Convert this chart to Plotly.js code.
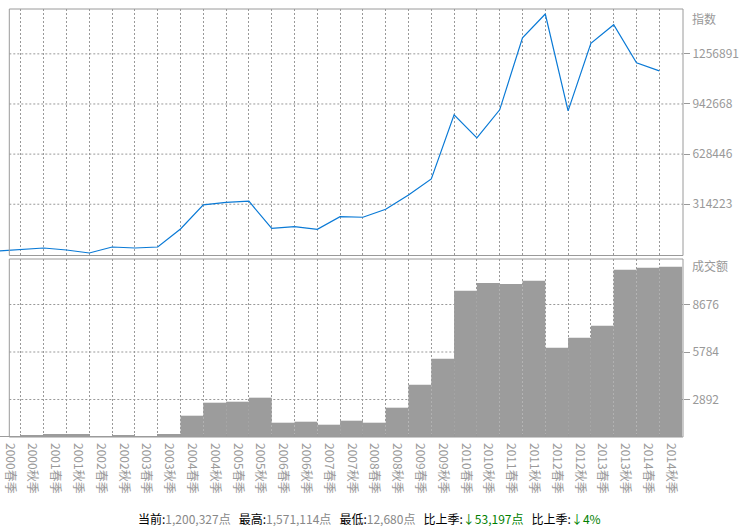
<!DOCTYPE html>
<html>
<head>
<meta charset="utf-8">
<script src="https://cdn.plot.ly/plotly-3.0.1.min.js"></script>
<style>html,body{margin:0;padding:0;background:#fff;}#chart{width:744px;height:532px;}</style>
</head>
<body>
<div id="chart"></div>
<script>
// ---- data ----
const categories = ['2000春季','2000秋季','2001春季','2001秋季','2002春季','2002秋季','2003春季','2003秋季',
  '2004春季','2004秋季','2005春季','2005秋季','2006春季','2006秋季','2007春季','2007秋季',
  '2008春季','2008秋季','2009春季','2009秋季','2010春季','2010秋季','2011春季','2011秋季',
  '2012春季','2012秋季','2013春季','2013秋季','2014春季','2014秋季'];
const indexValues = [25700, 35500, 45300, 32200, 12680, 51800, 45300, 51800, 169300, 326000,
  342400, 350200, 172600, 184400, 167400, 249600, 245700, 298000, 391300, 495800,
  913600, 763500, 946300, 1416400, 1571114, 939800, 1380500, 1501300, 1253524, 1200327];
const volumeValues = [85, 170, 255, 255, 85, 170, 85, 255, 1808, 2912,
  2997, 3337, 1214, 1299, 1044, 1384, 1214, 2488, 4440, 6648,
  12421, 13075, 12990, 13270, 7582, 8431, 9450, 14204, 14374, 14460];
const indexTicks = [314223, 628446, 942668, 1256891];
const volumeTicks = [2892, 5784, 8676];
const indexTitle = '指数';
const volumeTitle = '成交额';
const summaryLabels = ['当前:', '最高:', '最低:', '比上季:', '比上季:'];
const summaryValues = ['1,200,327点', '1,571,114点', '12,680点', '↓53,197点', '↓4%'];
const summaryColors = ['#888', '#888', '#888', '#008000', '#008000'];

// ---- layout helpers ----
const FONT = '"Noto Sans CJK SC", "Noto Sans", sans-serif';
const W = 744, H = 532;
const M = {l: 0, r: 61, t: 9, b: 95};
const PW = W - M.l - M.r, PH = H - M.t - M.b;
const px2x = p => (p - M.l) / PW;
const py2y = p => (H - M.b - p) / PH;
const boxLeft = px2x(9.3);
const topDomain = [py2y(255.5), 1];
const botDomain = [0, py2y(259)];
const xRangeTop = [0.083, 30.04];
const xRangeBot = [xRangeTop[0] - 0.5, xRangeTop[1] - 0.5];
const GRID = '#999';
const tickFont = {family: FONT, size: 12, color: '#999'};

const traces = [
  {type: 'bar', x: categories, y: volumeValues, xaxis: 'x2', yaxis: 'y2',
   width: 1, marker: {color: '#9c9c9c', line: {width: 0}}, hoverinfo: 'x+y'},
  {type: 'scatter', mode: 'lines', x: categories, y: indexValues, xaxis: 'x', yaxis: 'y',
   line: {color: '#0a7ad6', width: 1.2}, hoverinfo: 'x+y'}
];

const shapes = [];
indexTicks.forEach(v => shapes.push({type: 'line', xref: 'paper', yref: 'y3', x0: boxLeft, x1: 1, y0: v, y1: v,
  line: {color: GRID, width: 1, dash: '2px,2px'}, layer: 'below'}));
volumeTicks.forEach(v => shapes.push({type: 'line', xref: 'paper', yref: 'y4', x0: boxLeft, x1: 1, y0: v, y1: v,
  line: {color: GRID, width: 1, dash: '2px,2px'}, layer: 'below'}));
shapes.push({type: 'rect', xref: 'paper', yref: 'paper', x0: boxLeft, x1: 1, y0: topDomain[0], y1: topDomain[1],
  line: {color: '#9a9a9a', width: 1}, fillcolor: 'rgba(0,0,0,0)', layer: 'above'});
shapes.push({type: 'rect', xref: 'paper', yref: 'paper', x0: boxLeft, x1: 1, y0: botDomain[0], y1: botDomain[1],
  line: {color: '#9a9a9a', width: 1}, fillcolor: 'rgba(0,0,0,0)', layer: 'above'});

const GAP = '\u00a0\u00a0\u00a0';
const summaryHtml = summaryLabels.map((lab, i) =>
  '<span style="color:#000">' + lab + '</span><span style="color:' + summaryColors[i] + '">' + summaryValues[i] + '</span>'
).join(GAP);

const valueAxis = {showticklabels: false, showgrid: false, zeroline: false, showline: false, ticks: ''};
const labelAxis = {side: 'right', tickmode: 'array', showgrid: false, zeroline: false, showline: false,
  ticks: 'outside', ticklen: 6, tickcolor: '#999', tickfont: tickFont};

const layout = {
  width: W, height: H, margin: M, paper_bgcolor: '#fff', plot_bgcolor: '#fff', showlegend: false,
  xaxis: {type: 'category', range: xRangeTop, anchor: 'y', domain: [0, 1], showticklabels: false, ticks: '',
    showgrid: true, gridcolor: GRID, griddash: '2px,2px', gridwidth: 1, zeroline: false, showline: false},
  xaxis2: {type: 'category', range: xRangeBot, anchor: 'y2', domain: [0, 1], tickangle: 90, tickfont: tickFont,
    tickson: 'boundaries', ticks: 'inside', ticklen: 3, tickcolor: '#999', ticklabelshift: 4.5, ticklabelstandoff: 5,
    showgrid: true, gridcolor: GRID, griddash: '2px,2px', gridwidth: 1, zeroline: false, showline: false},
  yaxis: Object.assign({}, valueAxis, {domain: topDomain, anchor: 'x', range: [-3681, 1603759]}),
  yaxis2: Object.assign({}, valueAxis, {domain: botDomain, anchor: 'x2', range: [0, 15112]}),
  yaxis3: Object.assign({}, labelAxis, {overlaying: 'y', anchor: 'x', range: [-7108, 1538056],
    tickvals: indexTicks, ticktext: indexTicks.map(String)}),
  yaxis4: Object.assign({}, labelAxis, {overlaying: 'y2', anchor: 'x2', range: [609, 11446],
    tickvals: volumeTicks, ticktext: volumeTicks.map(String)}),
  shapes: shapes,
  annotations: [
    {text: indexTitle, xref: 'paper', yref: 'paper', x: px2x(690), y: py2y(18), xanchor: 'left', yanchor: 'middle',
     showarrow: false, font: {family: FONT, size: 12, color: '#999'}},
    {text: volumeTitle, xref: 'paper', yref: 'paper', x: px2x(690), y: py2y(265), xanchor: 'left', yanchor: 'middle',
     showarrow: false, font: {family: FONT, size: 12, color: '#999'}},
    {text: summaryHtml, xref: 'paper', yref: 'paper', x: px2x(369), y: py2y(518), xanchor: 'center', yanchor: 'middle',
     showarrow: false, font: {family: FONT, size: 12, color: '#000'}}
  ]
};

Plotly.newPlot('chart', traces, layout, {displayModeBar: false, staticPlot: true});
</script>
</body>
</html>
